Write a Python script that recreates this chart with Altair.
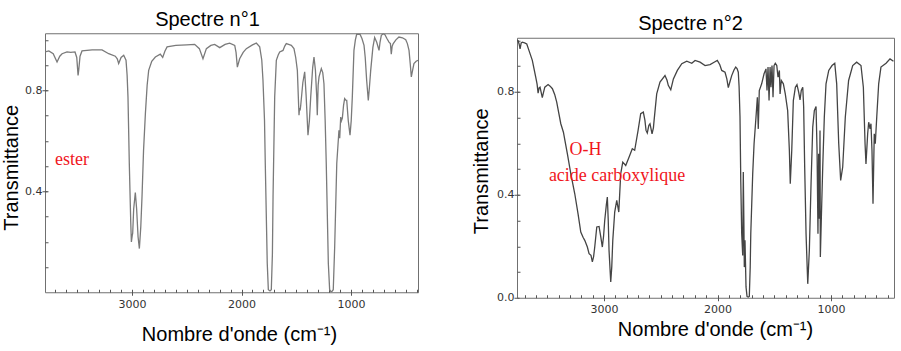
import altair as alt
import pandas as pd

# ---------------- Spectre n°1 (ester) ----------------
wn1 = [3795, 3760, 3720, 3685, 3660, 3639, 3594, 3560, 3521, 3505, 3493, 3487, 3475, 3457,
       3365, 3274, 3213, 3153, 3135, 3122, 3100, 3076, 3055, 3045, 3037, 3025, 3012, 3006,
       2998, 2994, 2985, 2970, 2958, 2945, 2933, 2920, 2909, 2895, 2878, 2862, 2848, 2820,
       2787, 2742, 2720, 2700, 2680, 2600, 2500, 2428, 2385, 2352, 2321, 2280, 2245, 2199,
       2150, 2108, 2062, 2050, 2038, 2017, 1985, 1956, 1900, 1865, 1834, 1815, 1804, 1790,
       1783, 1765, 1755, 1740, 1728, 1718, 1712, 1697, 1682, 1665, 1651, 1621, 1605, 1591,
       1570, 1545, 1521, 1505, 1490, 1480, 1475, 1470, 1465, 1459, 1440, 1423, 1410, 1393,
       1380, 1368, 1350, 1338, 1325, 1313, 1308, 1300, 1292, 1271, 1258, 1247, 1236, 1226,
       1207, 1195, 1180, 1162, 1149, 1130, 1110, 1103, 1094, 1087, 1079, 1068, 1058, 1045,
       1039, 1025, 1009, 998, 988, 973, 960, 948, 918, 900, 881, 870, 857, 842, 832, 820,
       800, 784, 765, 744, 735, 723, 705, 690, 672, 653, 640, 632, 624, 614, 590, 562, 530,
       500, 485, 470, 458, 449, 437, 425, 405, 388]
t1 = [0.952, 0.956, 0.945, 0.912, 0.935, 0.945, 0.952, 0.950, 0.952, 0.930, 0.859, 0.880, 0.935, 0.956,
      0.960, 0.960, 0.945, 0.935, 0.925, 0.906, 0.930, 0.939, 0.919, 0.860, 0.773, 0.510, 0.280, 0.199,
      0.225, 0.234, 0.330, 0.395, 0.330, 0.220, 0.173, 0.260, 0.377, 0.560, 0.708, 0.820, 0.879, 0.915,
      0.932, 0.943, 0.930, 0.955, 0.972, 0.978, 0.980, 0.982, 0.965, 0.925, 0.965, 0.978, 0.982, 0.969,
      0.982, 0.987, 0.978, 0.950, 0.892, 0.925, 0.950, 0.965, 0.980, 0.987, 0.972, 0.920, 0.840, 0.680,
      0.510, 0.115, 0.010, 0.005, 0.010, 0.150, 0.377, 0.773, 0.919, 0.940, 0.952, 0.958, 0.975, 0.985,
      0.982, 0.978, 0.965, 0.930, 0.879, 0.760, 0.701, 0.730, 0.720, 0.741, 0.830, 0.873, 0.780, 0.622,
      0.680, 0.773, 0.890, 0.932, 0.880, 0.773, 0.701, 0.820, 0.853, 0.886, 0.870, 0.826, 0.680, 0.510,
      0.114, 0.010, 0.000, 0.010, 0.180, 0.510, 0.642, 0.610, 0.694, 0.680, 0.690, 0.740, 0.767, 0.760,
      0.760, 0.680, 0.622, 0.680, 0.773, 0.958, 1.000, 1.022, 1.022, 1.005, 0.978, 0.930, 0.840, 0.760,
      0.810, 0.879, 0.970, 1.009, 0.990, 0.958, 0.990, 1.018, 1.024, 1.020, 1.005, 0.991, 0.985, 0.943,
      0.975, 0.985, 1.000, 1.011, 1.008, 1.000, 0.985, 0.958, 0.900, 0.853, 0.880, 0.906, 0.915, 0.919]

# ---------------- Spectre n°2 (acide carboxylique) ----------------
wn2 = [3765, 3758, 3748, 3740, 3730, 3720, 3700, 3681, 3661, 3632, 3602, 3590, 3581, 3572, 3564,
       3544, 3535, 3522, 3493, 3475, 3455, 3435, 3417, 3400, 3381, 3358, 3340, 3323, 3293, 3258,
       3229, 3205, 3185, 3170, 3147, 3132, 3115, 3103, 3092, 3082, 3064, 3044, 3030, 3015, 3004,
       2994, 2980, 2971, 2963, 2956, 2941, 2932, 2923, 2906, 2888, 2870, 2853, 2835, 2809, 2780,
       2751, 2730, 2700, 2677, 2654, 2640, 2630, 2619, 2605, 2595, 2577, 2565, 2559, 2536, 2507,
       2463, 2445, 2434, 2412, 2400, 2389, 2354, 2315, 2271, 2227, 2198, 2154, 2110, 2066, 2030,
       2002, 1980, 1963, 1934, 1918, 1905, 1890, 1875, 1855, 1840, 1828, 1817, 1810, 1802, 1795,
       1787, 1778, 1773, 1768, 1764, 1758, 1749, 1740, 1730, 1720, 1712, 1707, 1690, 1678, 1661,
       1649, 1641, 1632, 1611, 1590, 1573, 1564, 1555, 1546, 1537, 1529, 1520, 1511, 1502, 1491,
       1478, 1467, 1455, 1449, 1438, 1420, 1403, 1382, 1367, 1359, 1346, 1332, 1314, 1300, 1285,
       1273, 1262, 1249, 1241, 1232, 1220, 1205, 1191, 1176, 1161, 1147, 1132, 1123, 1115, 1109,
       1103, 1097, 1094, 1085, 1073, 1059, 1044, 1020, 991, 967, 950, 932, 915, 897, 874, 845,
       809, 774, 736, 715, 700, 692, 677, 668, 656, 648, 639, 630, 619, 610, 597, 580, 560, 515,
       480, 450]
t2 = [1.000, 0.999, 0.985, 0.967, 0.990, 0.993, 0.990, 0.986, 0.960, 0.922, 0.857, 0.830, 0.795, 0.815, 0.818,
      0.777, 0.795, 0.818, 0.828, 0.822, 0.812, 0.790, 0.760, 0.720, 0.676, 0.643, 0.600, 0.559, 0.482, 0.404,
      0.326, 0.255, 0.235, 0.223, 0.197, 0.171, 0.165, 0.139, 0.160, 0.197, 0.275, 0.277, 0.240, 0.197, 0.240,
      0.300, 0.360, 0.391, 0.300, 0.184, 0.061, 0.120, 0.223, 0.333, 0.378, 0.333, 0.482, 0.527, 0.514, 0.546,
      0.579, 0.573, 0.650, 0.715, 0.721, 0.690, 0.650, 0.640, 0.670, 0.676, 0.637, 0.660, 0.689, 0.792, 0.838,
      0.863, 0.845, 0.825, 0.808, 0.830, 0.850, 0.883, 0.909, 0.919, 0.911, 0.922, 0.915, 0.902, 0.906, 0.915,
      0.922, 0.905, 0.883, 0.876, 0.850, 0.816, 0.840, 0.863, 0.885, 0.896, 0.890, 0.876, 0.820, 0.702, 0.450,
      0.249, 0.164, 0.488, 0.300, 0.119, 0.223, 0.042, 0.005, 0.002, 0.005, 0.120, 0.249, 0.482, 0.598, 0.702,
      0.779, 0.656, 0.805, 0.831, 0.870, 0.889, 0.805, 0.896, 0.766, 0.896, 0.818, 0.902, 0.779, 0.902, 0.911,
      0.902, 0.857, 0.883, 0.792, 0.844, 0.831, 0.792, 0.727, 0.572, 0.443, 0.572, 0.766, 0.818, 0.828, 0.799,
      0.769, 0.805, 0.818, 0.741, 0.508, 0.249, 0.054, 0.184, 0.443, 0.663, 0.727, 0.743, 0.572, 0.249, 0.559,
      0.307, 0.650, 0.158, 0.313, 0.508, 0.702, 0.831, 0.883, 0.902, 0.911, 0.831, 0.598, 0.456, 0.508, 0.702, 0.844,
      0.902, 0.915, 0.902, 0.818, 0.598, 0.520, 0.637, 0.682, 0.656, 0.676, 0.572, 0.365, 0.637, 0.598, 0.702, 0.831, 0.896, 0.911,
      0.928, 0.919]

# annotations
ann1_text = ["ester"]
ann1_wn = [3703]
ann1_t = [0.523]
ann2_text = ["O-H", "acide carboxylique"]
ann2_wn = [3163, 2885]
ann2_t = [0.575, 0.474]

# ticks
x_major = [3000, 2000, 1000]
x_minor = [400, 500, 600, 700, 800, 900, 1000, 1100, 1200, 1300, 1400, 1500, 1600, 1700,
           1800, 1900, 2000, 2100, 2200, 2300, 2400, 2500, 2600, 2700, 2800, 2900, 3000,
           3100, 3200, 3300, 3400, 3500, 3600, 3700]
y_minor = [0.1, 0.2, 0.3, 0.4, 0.5, 0.6, 0.7, 0.8, 0.9, 1.0]
y_major1 = [0.4, 0.8]
y_major2 = [0.0, 0.4, 0.8]

X_TITLE = "Nombre d'onde (cm⁻¹)"
Y_TITLE = "Transmittance"


def panel(wn, t, atext, awn, at, align, xdom, ydom, ymajor, w, h, color, title, tdx, toff,
          xtx, xty, ytx, yty):
    df = pd.DataFrame({"wn": wn, "T": t, "i": list(range(len(wn)))})
    adf = pd.DataFrame({"wn": awn, "T": at, "label": atext})
    xs = alt.Scale(domain=xdom, reverse=True, nice=False, zero=False)
    ys = alt.Scale(domain=ydom, nice=False, zero=False)
    line = alt.Chart(df).mark_line(color=color, strokeWidth=1.3, clip=True).encode(
        x=alt.X("wn:Q", scale=xs, axis=alt.Axis(
            values=x_major, format="d", tickSize=5, offset=-2, labelPadding=3,
            domain=False, grid=False, title=X_TITLE, titleX=xtx, titleY=xty,
            titleAlign="center", titleBaseline="alphabetic")),
        y=alt.Y("T:Q", scale=ys, axis=alt.Axis(
            values=ymajor, format=".1f", tickSize=5, offset=-2, labelPadding=0,
            domain=False, grid=False, title=Y_TITLE, titleX=ytx, titleY=yty,
            titleAlign="center", titleBaseline="alphabetic", titleAngle=270)),
        order="i:Q",
    )
    txt = alt.Chart(adf).mark_text(
        font="Liberation Serif", fontSize=18, color="#f0161d", align=align, baseline="middle"
    ).encode(
        x=alt.X("wn:Q", scale=xs, axis=alt.Axis(
            values=x_minor, labels=False, tickSize=3, offset=-3, domain=False,
            grid=False, title=None, orient="bottom")),
        y=alt.Y("T:Q", scale=ys, axis=alt.Axis(
            values=y_minor, labels=False, tickSize=3, offset=-3, domain=False,
            grid=False, title=None, orient="left")),
        text="label:N",
    )
    return alt.layer(line, txt).resolve_axis(x="independent", y="independent").properties(
        width=w, height=h,
        title=alt.TitleParams(title, fontSize=20, font="Liberation Sans", fontWeight="normal",
                              color="black", anchor="middle", frame="group", dx=tdx,
                              offset=toff, baseline="alphabetic"),
    )


p1 = panel(wn1, t1, ann1_text, ann1_wn, ann1_t, "left", [388, 3795], [0, 1.026], y_major1,
           373, 259, "#7a7a7a", "Spectre n°1", -24, -13, 194, 50, -30, 134)
p2 = panel(wn2, t2, ann2_text, ann2_wn, ann2_t, "center", [445, 3767], [0, 1.01], y_major2,
           377, 260, "#444444", "Spectre n°2", -15, -12, 198, 40, -32, 133)

chart = alt.hconcat(p1, p2, spacing=51, center=True).properties(
    padding={"left": 0, "top": 9, "right": 5, "bottom": 5}
).configure_view(stroke="#707070", strokeWidth=1).configure_axis(
    labelFont="DejaVu Sans", labelFontSize=11, labelColor="#333333", tickColor="#555555",
    titleFont="Liberation Sans", titleFontSize=20, titleFontWeight="normal", titleColor="black"
)

chart.save("out.html", embed_options={"renderer": "svg", "actions": False})
